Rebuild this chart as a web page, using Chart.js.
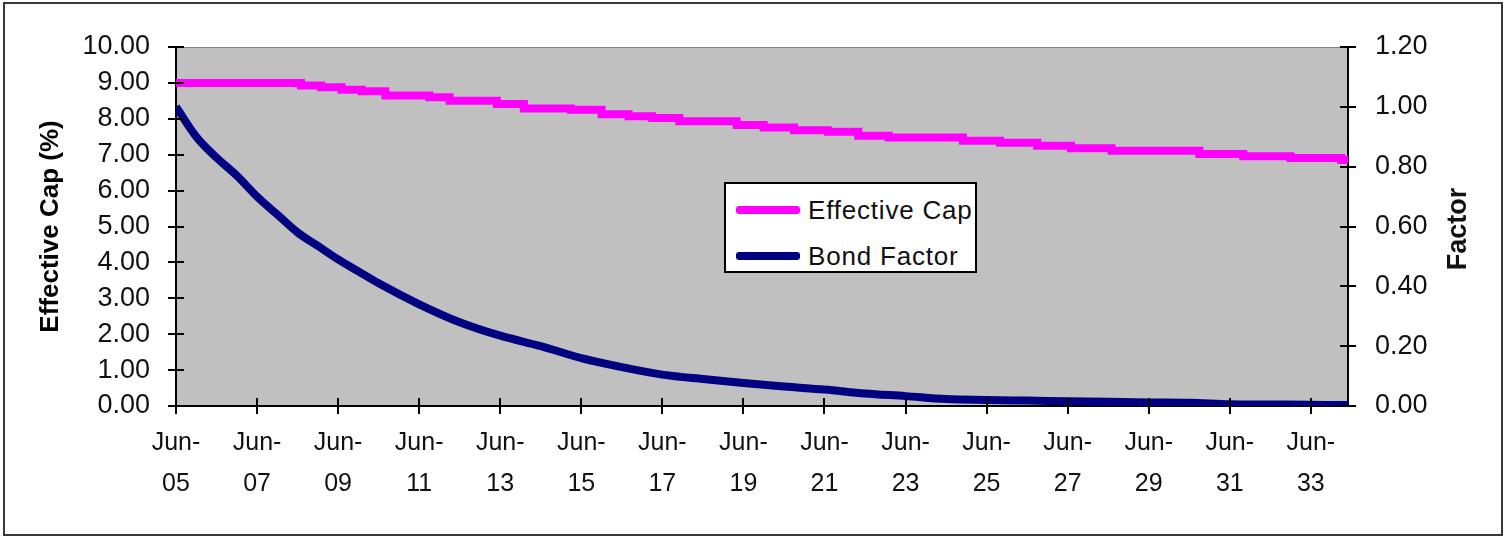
<!DOCTYPE html>
<html>
<head>
<meta charset="utf-8">
<script src="https://cdn.jsdelivr.net/npm/chart.js@4/dist/chart.umd.min.js"></script>
<style>
  html, body { margin: 0; padding: 0; background: #fff; }
  #wrap { position: relative; width: 1507px; height: 539px; font-family: 'Liberation Sans', Arial, sans-serif; color: #111; }
  #frame { position: absolute; left: 3px; top: 2px; width: 1496px; height: 530px; border: 2px solid #3a3a3a; pointer-events: none; }
  #chart { position: absolute; left: 0; top: 0; }
  .legend { position: absolute; left: 724px; top: 182px; width: 249px; height: 87px; background: #fff; border: 2px solid #000; }
  .legend .row { position: absolute; left: 10px; height: 30px; display: flex; align-items: center; font-size: 26px; letter-spacing: 0.8px; }
  .legend .swatch { width: 64px; height: 8px; border-radius: 3px; margin-right: 8px; }
  .y2title { position: absolute; left: 1457px; top: 229px; transform: translate(-50%, -50%) rotate(-90deg); font-size: 27px; font-weight: bold; white-space: nowrap; }
</style>
</head>
<body>
<div id="wrap">
  <canvas id="chart" width="1507" height="539"></canvas>
  <div class="legend">
    <div class="row" style="top: 11px;"><span class="swatch" style="background:#ff00ff"></span>Effective Cap</div>
    <div class="row" style="top: 57px;"><span class="swatch" style="background:#000080"></span>Bond Factor</div>
  </div>
  <div class="y2title">Factor</div>
  <div id="frame"></div>
</div>
<script>
// months counted from Jun-05
const capMonths = [0, 37, 43, 49, 55, 62, 75, 81, 95, 103, 117, 126, 134, 141, 149, 166, 174, 183, 193, 202, 211, 233, 244, 255, 265, 277, 303, 316, 330, 345, 347];
const capValues = [9.00, 8.93, 8.88, 8.81, 8.77, 8.65, 8.60, 8.50, 8.41, 8.29, 8.25, 8.13, 8.07, 8.02, 7.93, 7.83, 7.76, 7.68, 7.64, 7.53, 7.48, 7.39, 7.33, 7.25, 7.18, 7.11, 7.02, 6.96, 6.91, 6.85, 6.79];

const factorMonths = [0, 6, 12, 18, 24, 30, 36, 42, 48, 54, 60, 72, 84, 96, 108, 120, 132, 144, 156, 168, 180, 192, 204, 216, 228, 240, 252, 264, 276, 288, 300, 312, 324, 336, 347];
const factorValues = [1.00, 0.90, 0.83, 0.77, 0.70, 0.64, 0.58, 0.535, 0.49, 0.45, 0.41, 0.34, 0.28, 0.235, 0.20, 0.16, 0.13, 0.105, 0.09, 0.077, 0.065, 0.055, 0.042, 0.033, 0.023, 0.020, 0.018, 0.016, 0.014, 0.012, 0.011, 0.006, 0.005, 0.004, 0.003];

const xTickMonths = [0, 24, 48, 72, 96, 120, 144, 168, 192, 216, 240, 264, 288, 312, 336];
const xTickYears = ['05', '07', '09', '11', '13', '15', '17', '19', '21', '23', '25', '27', '29', '31', '33'];
const capTicks = [0, 1, 2, 3, 4, 5, 6, 7, 8, 9, 10];
const factorTicks = [0, 0.2, 0.4, 0.6, 0.8, 1.0, 1.2];

const FONT = "'Liberation Sans', Arial, sans-serif";

const plotBackground = {
  id: 'plotBackground',
  beforeDraw(chart) {
    const { ctx, chartArea: a } = chart;
    ctx.save();
    ctx.fillStyle = '#c0c0c0';
    ctx.fillRect(a.left, a.top, a.right - a.left, a.bottom - a.top);
    ctx.strokeStyle = '#808080';
    ctx.lineWidth = 1;
    ctx.beginPath();
    ctx.moveTo(a.left, a.top + 0.5);
    ctx.lineTo(a.right, a.top + 0.5);
    ctx.stroke();
    ctx.restore();
  }
};

// tick marks cross the axis lines, so draw the inner half too
const innerTicks = {
  id: 'innerTicks',
  afterDraw(chart) {
    const { ctx } = chart;
    const len = 8;
    ctx.save();
    ctx.strokeStyle = '#000';
    ctx.lineWidth = 2;
    ctx.beginPath();
    const x = chart.scales.x, y = chart.scales.y, y1 = chart.scales.y1;
    x.ticks.forEach((t, i) => {
      const px = Math.round(x.getPixelForTick(i));
      ctx.moveTo(px, x.top);
      ctx.lineTo(px, x.top - len);
    });
    y.ticks.forEach((t, i) => {
      const py = Math.round(y.getPixelForTick(i));
      ctx.moveTo(y.right, py);
      ctx.lineTo(y.right + len, py);
    });
    y1.ticks.forEach((t, i) => {
      const py = Math.round(y1.getPixelForTick(i));
      ctx.moveTo(y1.left, py);
      ctx.lineTo(y1.left - len, py);
    });
    ctx.stroke();
    ctx.restore();
  }
};

new Chart(document.getElementById('chart'), {
  type: 'line',
  data: {
    datasets: [
      {
        label: 'Effective Cap',
        data: capMonths.map((m, i) => ({ x: m, y: capValues[i] })),
        yAxisID: 'y',
        borderColor: '#ff00ff',
        borderWidth: 8,
        stepped: true,
        pointRadius: 0
      },
      {
        label: 'Bond Factor',
        data: factorMonths.map((m, i) => ({ x: m, y: factorValues[i] })),
        yAxisID: 'y1',
        borderColor: '#000080',
        borderWidth: 8,
        cubicInterpolationMode: 'monotone',
        pointRadius: 0
      }
    ]
  },
  plugins: [plotBackground, innerTicks],
  options: {
    responsive: false,
    animation: false,
    layout: { padding: { top: 47, left: 0, right: 0, bottom: 0 } },
    plugins: { legend: { display: false }, tooltip: { enabled: false } },
    scales: {
      x: {
        type: 'linear',
        min: 0,
        max: 347,
        afterFit: s => { s.height = 133; },
        afterBuildTicks: s => { s.ticks = xTickMonths.map(v => ({ value: v })); },
        grid: { drawOnChartArea: false, color: '#000', lineWidth: 2, tickLength: 8 },
        border: { color: '#000', width: 2 },
        ticks: {
          autoSkip: false,
          maxRotation: 0,
          padding: 9,
          color: '#111',
          font: { family: FONT, size: 25, lineHeight: 1.64 },
          callback: v => ['Jun-', xTickYears[xTickMonths.indexOf(v)]]
        }
      },
      y: {
        position: 'left',
        min: 0,
        max: 10,
        afterFit: s => { s.width = 176; },
        afterBuildTicks: s => { s.ticks = capTicks.map(v => ({ value: v })); },
        grid: { drawOnChartArea: false, color: '#000', lineWidth: 2, tickLength: 8 },
        border: { color: '#000', width: 2 },
        ticks: {
          padding: 18,
          color: '#111',
          font: { family: FONT, size: 27 },
          callback: v => v.toFixed(2)
        },
        title: {
          display: true,
          text: 'Effective Cap (%)',
          color: '#000',
          padding: { top: 35, bottom: 0 },
          font: { family: FONT, size: 26, weight: 'bold' }
        }
      },
      y1: {
        position: 'right',
        min: 0,
        max: 1.2,
        afterFit: s => { s.width = 159; },
        afterBuildTicks: s => { s.ticks = factorTicks.map(v => ({ value: v })); },
        grid: { drawOnChartArea: false, color: '#000', lineWidth: 2, tickLength: 8 },
        border: { color: '#000', width: 2 },
        ticks: {
          padding: 19,
          color: '#111',
          font: { family: FONT, size: 27 },
          callback: v => v.toFixed(2)
        }
      }
    }
  }
});
</script>
</body>
</html>
